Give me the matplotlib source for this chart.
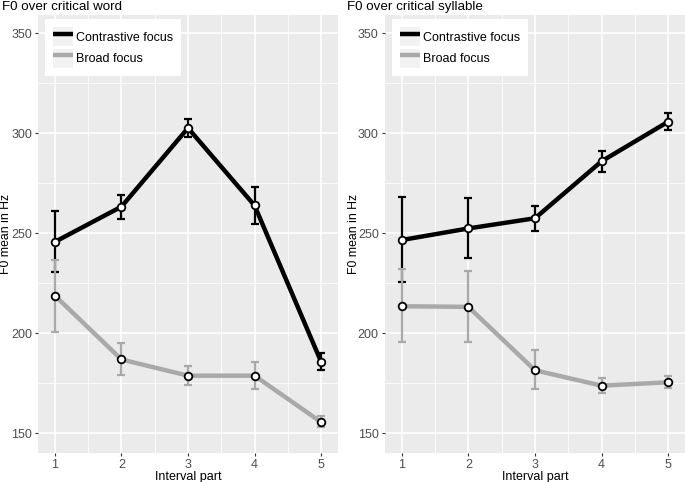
import matplotlib
matplotlib.use("Agg")
import matplotlib.pyplot as plt
import numpy as np
from matplotlib.legend_handler import HandlerLine2D
from matplotlib.patches import Rectangle

plt.rcParams["font.family"] = ["Liberation Sans", "DejaVu Sans"]

intervals = [1, 2, 3, 4, 5]

# F0 over critical word
word_contrast = [245.6, 263.2, 302.5, 263.8, 185.7]
word_contrast_lo = [230.7, 257.0, 298.0, 254.7, 181.5]
word_contrast_hi = [261.0, 269.2, 307.0, 273.2, 190.0]
word_broad = [218.7, 186.8, 178.7, 178.7, 155.5]
word_broad_lo = [200.7, 178.8, 174.0, 171.8, 152.8]
word_broad_hi = [236.5, 195.0, 183.3, 185.7, 158.5]

# F0 over critical syllable
syl_contrast = [246.5, 252.3, 257.4, 285.9, 305.7]
syl_contrast_lo = [225.3, 237.5, 251.1, 280.7, 301.3]
syl_contrast_hi = [267.8, 267.3, 263.6, 291.1, 309.9]
syl_broad = [213.4, 213.1, 181.4, 173.7, 175.4]
syl_broad_lo = [195.3, 195.3, 172.0, 170.2, 172.5]
syl_broad_hi = [231.8, 231.0, 191.3, 177.5, 178.7]

titles = ["F0 over critical word", "F0 over critical syllable"]
series_labels = ["Contrastive focus", "Broad focus"]
y_ticks = [150, 200, 250, 300, 350]

BLACK = "#000000"
GREY = "#A9A9A9"
PANEL_BG = "#EBEBEB"
TICK_COL = "#4D4D4D"


class KeyHandler(HandlerLine2D):
    # ggplot-like legend key: light grey square behind the line
    def create_artists(self, legend, orig_handle, xdescent, ydescent,
                       width, height, fontsize, trans):
        artists = super().create_artists(legend, orig_handle, xdescent,
                                         ydescent, width, height,
                                         fontsize, trans)
        bg = Rectangle((-xdescent, -ydescent), width, height,
                       facecolor="#F2F2F2", edgecolor="none",
                       transform=trans)
        return [bg] + list(artists)


def draw_series(ax, y, lo, hi, color, label):
    y = np.array(y)
    yerr = [y - np.array(lo), np.array(hi) - y]
    ax.errorbar(intervals, y, yerr=yerr, fmt="none", ecolor=color,
                elinewidth=1.6, capsize=3, capthick=1.6, zorder=3)
    line, = ax.plot(intervals, y, color=color, linewidth=3.2, zorder=4,
                    solid_capstyle="butt", label=label)
    ax.plot(intervals, y, linestyle="none", marker="o", markersize=5.5,
            markerfacecolor="white", markeredgecolor="black",
            markeredgewidth=1.3, zorder=5)
    return line


fig = plt.figure(figsize=(6.85, 4.82), dpi=100)
positions = [
    [38.3 / 685, 29.3 / 482, 299.4 / 685, 437.7 / 482],
    [385.0 / 685, 29.3 / 482, 300.0 / 685, 437.7 / 482],
]
title_x = [2 / 685, 347 / 685]
ylabel_x = [-0.1095, -0.104]
data = [
    (word_contrast, word_contrast_lo, word_contrast_hi,
     word_broad, word_broad_lo, word_broad_hi),
    (syl_contrast, syl_contrast_lo, syl_contrast_hi,
     syl_broad, syl_broad_lo, syl_broad_hi),
]

for pos, tx, lx, title, d in zip(positions, title_x, ylabel_x, titles, data):
    ax = fig.add_axes(pos)
    ax.set_facecolor(PANEL_BG)
    for s in ax.spines.values():
        s.set_visible(False)

    ax.set_xlim(0.75, 5.25)
    ax.set_ylim(140.2, 359.0)
    ax.set_xticks(intervals)
    ax.set_yticks(y_ticks)
    ax.set_xticks(np.arange(1.5, 5.0, 1.0), minor=True)
    ax.set_yticks(np.arange(175, 350, 50), minor=True)
    ax.grid(which="major", color="white", linewidth=1.1)
    ax.grid(which="minor", color="white", linewidth=0.55)
    ax.set_axisbelow(True)
    ax.tick_params(which="major", length=2.5, width=0.8, color="#333333",
                   labelcolor=TICK_COL, labelsize=9, pad=2)
    ax.tick_params(which="minor", length=0)

    h1 = draw_series(ax, d[0], d[1], d[2], BLACK, series_labels[0])
    h2 = draw_series(ax, d[3], d[4], d[5], GREY, series_labels[1])

    ax.set_xlabel("Interval part", fontsize=9, labelpad=0)
    ax.set_ylabel("F0 mean in Hz", fontsize=8.8, va="center")
    ax.yaxis.set_label_coords(lx, 0.5)
    fig.text(tx, 1 - 10 / 482, title, fontsize=9.6, ha="left",
             va="baseline")

    leg = ax.legend(handles=[h1, h2], loc="upper left",
                    bbox_to_anchor=(0.022, 0.991), borderaxespad=0,
                    fontsize=9, frameon=True, fancybox=False,
                    framealpha=1, edgecolor="white", handlelength=1.6,
                    handleheight=2.0, borderpad=0.65, labelspacing=0.18,
                    handletextpad=0.25,
                    handler_map={h1: KeyHandler(), h2: KeyHandler()})
    leg.get_frame().set_linewidth(0)

fig.savefig("out.png", dpi=100)
